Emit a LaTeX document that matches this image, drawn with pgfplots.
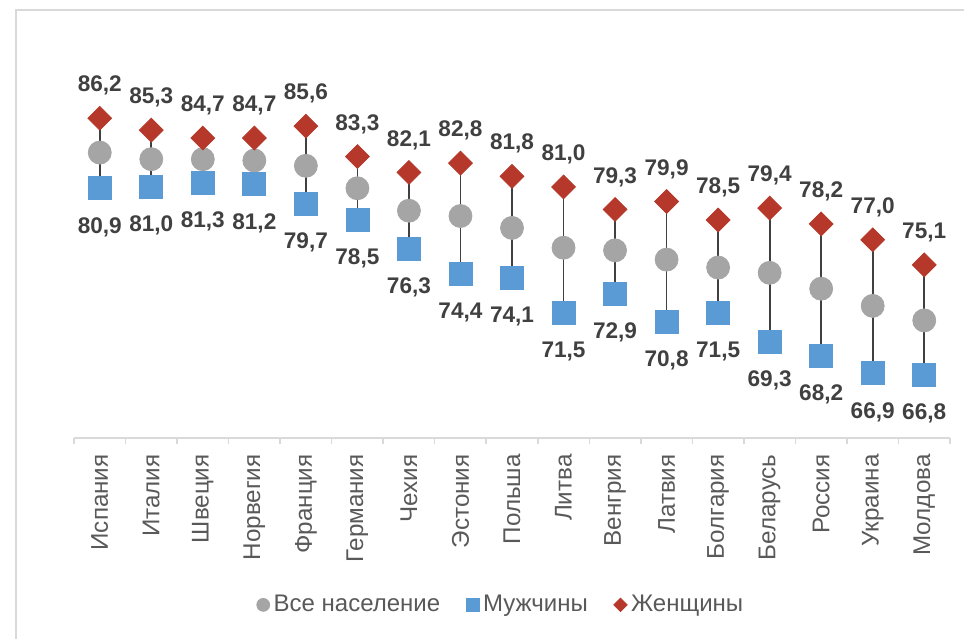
\documentclass[border=0pt]{standalone}
\usepackage{fontspec}
\setmainfont{Liberation Sans}
\usepackage{pgfplots}
\usepackage{pgfplotstable}
\pgfplotsset{compat=1.18}
\definecolor{cGrey}{HTML}{A5A5A5}
\definecolor{cBlue}{HTML}{5B9BD5}
\definecolor{cRed}{HTML}{B5382A}
\definecolor{cLine}{HTML}{404040}
\definecolor{cLabel}{HTML}{404040}
\definecolor{cTick}{HTML}{595959}
\definecolor{cAxis}{HTML}{D9D9D9}

\pgfplotstableread{
i total men women
0 83.6 80.9 86.2
1 83.1 81.0 85.3
2 83.1 81.3 84.7
3 83.0 81.2 84.7
4 82.6 79.7 85.6
5 80.9 78.5 83.3
6 79.2 76.3 82.1
7 78.8 74.4 82.8
8 77.9 74.1 81.8
9 76.4 71.5 81.0
10 76.2 72.9 79.3
11 75.5 70.8 79.9
12 74.9 71.5 78.5
13 74.5 69.3 79.4
14 73.3 68.2 78.2
15 72.0 66.9 77.0
16 70.9 66.8 75.1
}\datatable

\begin{document}
\begin{tikzpicture}
\useasboundingbox (-37pt,-100.5pt) rectangle (445pt,219pt);
\draw[cAxis, line width=0.75pt] (-29pt,-100.5pt) -- (-29pt,214pt) -- (445pt,214pt);
\begin{axis}[
  at={(0pt,0pt)}, anchor=south west,
  scale only axis, width=438pt, height=185pt,
  xmin=-0.5, xmax=16.5, ymin=62, ymax=90,
  axis x line*=bottom, axis y line=none,
  x axis line style={cAxis, line width=0.75pt},
  xtick={0,...,16},
  xticklabels={Испания,Италия,Швеция,Норвегия,Франция,Германия,Чехия,Эстония,Польша,Литва,Венгрия,Латвия,Болгария,Беларусь,Россия,Украина,Молдова},
  major tick length=0pt,
  major x tick style={draw=none},
  minor xtick={-0.5,0.5,...,16.5},
  minor x tick style={cAxis, line width=0.75pt},
  tick align=outside, minor tick length=3pt,
  xticklabel style={rotate=90, anchor=east, inner sep=0pt, font=\fontsize{12.1}{14}\selectfont, text=cTick},
  xticklabel shift=8pt,
  legend columns=3,
  legend style={at={(0.4886,-0.451)}, anchor=center, draw=none, fill=none,
    font=\fontsize{12}{14}\selectfont, text=cTick,
    /tikz/every even column/.append style={column sep=11pt}},
  legend image code/.code={\draw[#1,/tikz/every mark/.append style={scale=0.56}] plot coordinates {(0pt,0pt)};},
  clip=false,
]
\addplot[forget plot, draw=none, mark=none,
  error bars/.cd, y dir=minus, y explicit, error mark=none,
  error bar style={cLine, line width=0.9pt}]
  table[x=i, y=women, y error minus expr=\thisrow{women}-\thisrow{men}] {\datatable};
\addplot[only marks, mark=*, mark size=5.75pt, mark options={fill=cGrey, draw=cGrey}]
  table[x=i, y=total] {\datatable};
\addlegendentry{Все население}
\addplot[only marks, mark=square*, mark size=5.75pt, mark options={fill=cBlue, draw=cBlue},
  nodes near coords={\pgfmathprintnumber[fixed, fixed zerofill, precision=1, use comma, assume math mode=true]{\pgfplotspointmeta}},
  every node near coord/.append style={anchor=base, yshift=-22.4pt, inner sep=0pt, font=\fontsize{11.3}{13}\selectfont\bfseries, text=cLabel}]
  table[x=i, y=men] {\datatable};
\addlegendentry{Мужчины}
\addplot[only marks, mark=square*, mark size=4.2pt, mark options={rotate=45, fill=cRed, draw=cRed},
  nodes near coords={\pgfmathprintnumber[fixed, fixed zerofill, precision=1, use comma, assume math mode=true]{\pgfplotspointmeta}},
  every node near coord/.append style={anchor=base, yshift=13.2pt, inner sep=0pt, font=\fontsize{11.3}{13}\selectfont\bfseries, text=cLabel}]
  table[x=i, y=women] {\datatable};
\addlegendentry{Женщины}
\end{axis}
\end{tikzpicture}
\end{document}
